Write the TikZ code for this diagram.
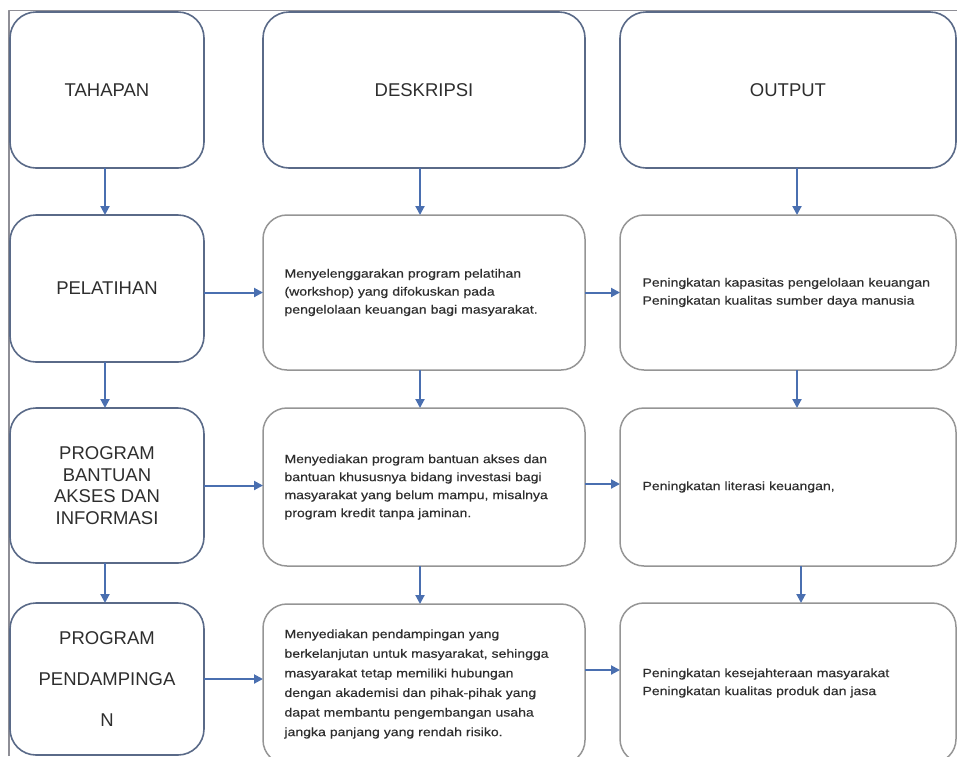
\documentclass[tikz,border=0pt]{standalone}
\usepackage{fontspec}
\setmainfont{Liberation Sans}
\newfontfamily\descfont[FakeStretch=1.17,FakeBold=0.4]{Liberation Sans}
\usepackage{tikz}
\usetikzlibrary{arrows.meta}
\usetikzlibrary{positioning}
\definecolor{headline}{HTML}{5A6A88}
\definecolor{boxline}{HTML}{959595}
\definecolor{arrowblue}{HTML}{4A6FB0}
\definecolor{textgray}{HTML}{2E2E2E}
\definecolor{frameline}{HTML}{8E8E96}

\begin{document}
\begin{tikzpicture}[x=1pt,y=1pt,node distance=47pt,line join=round,
			head node/.style={draw=headline,line width=1.6pt,rounded corners=26pt,
				inner sep=0pt,outer sep=0pt,align=center,text=textgray,
				font=\fontsize{18.5}{21.7}\selectfont},
			desc node/.style={draw=boxline,line width=1.5pt,rounded corners=24pt,
				inner sep=0pt,outer sep=0pt,align=left,text=textgray,
				font=\descfont\fontsize{12}{18}\selectfont},
			arr/.style={color=arrowblue,line width=2pt,
				-{Triangle[length=9pt,width=9pt]}}]
			
			\useasboundingbox (0,0) rectangle (957,-756);
			\clip (0,0) rectangle (957,-756);
			\draw[frameline,line width=1.4pt] (9,-756) -- (9,-10.5) -- (957,-10.5);
			
			% kolom tahapan
			\node[head node,minimum width=194pt,minimum height=156pt] (t0) at (107,-90) {TAHAPAN};
			\node[head node,minimum width=194pt,minimum height=147pt] (t1) [below=47pt of t0] {PELATIHAN};
			\node[head node,minimum width=194pt,minimum height=155pt] (t2) [below=46pt of t1]
				{PROGRAM\\BANTUAN\\AKSES DAN\\INFORMASI};
			\node[head node,minimum width=194pt,minimum height=152pt,
				font=\fontsize{18.5}{41}\selectfont] (t3) [below=40pt of t2]
				{PROGRAM\\PENDAMPINGA\\N};
			
			% kolom deskripsi
			\node[head node,minimum width=322pt,minimum height=156pt] (d0) at (424,-90) {DESKRIPSI};
			\node[desc node,minimum width=322pt,minimum height=155pt,text width=279pt] (d1) [below=47pt of d0]
				{Menyelenggarakan program pelatihan\\(workshop) yang difokuskan pada\\pengelolaan keuangan bagi masyarakat.};
			\node[desc node,minimum width=322pt,minimum height=158pt,text width=279pt] (d2) [below=38pt of d1]
				{Menyediakan program bantuan akses dan\\bantuan khususnya bidang investasi bagi\\masyarakat yang belum mampu, misalnya\\program kredit tanpa jaminan.};
			\node[desc node,minimum width=322pt,minimum height=160pt,text width=279pt,
				font=\descfont\fontsize{12}{19.6}\selectfont] (d3) [below=38pt of d2]
				{Menyediakan pendampingan yang\\berkelanjutan untuk masyarakat, sehingga\\masyarakat tetap memiliki hubungan\\dengan akademisi dan pihak-pihak yang\\dapat membantu pengembangan usaha\\jangka panjang yang rendah risiko.};
			
			% kolom output
			\node[head node,minimum width=336pt,minimum height=156pt] (o0) at (788,-90) {OUTPUT};
			\node[desc node,minimum width=336pt,minimum height=155pt,text width=291pt] (o1) [below=47pt of o0]
				{Peningkatan kapasitas pengelolaan keuangan\\Peningkatan kualitas sumber daya manusia};
			\node[desc node,minimum width=336pt,minimum height=158pt,text width=291pt] (o2) [below=38pt of o1]
				{Peningkatan literasi keuangan,};
			\node[desc node,minimum width=336pt,minimum height=160pt,text width=291pt] (o3) [below=37pt of o2]
				{Peningkatan kesejahteraan masyarakat\\Peningkatan kualitas produk dan jasa};
			
			\path[arr]
			([xshift=-2pt]t0.south) edge ([xshift=-2pt]t1.north)
			([xshift=-2pt]t1.south) edge ([xshift=-2pt]t2.north)
			([xshift=-2pt]t2.south) edge ([xshift=-2pt]t3.north)
			([xshift=-4pt]d0.south) edge ([xshift=-4pt]d1.north)
			([xshift=-4pt]d1.south) edge ([xshift=-4pt]d2.north)
			([xshift=-4pt]d2.south) edge ([xshift=-4pt]d3.north)
			([xshift=9pt]o0.south) edge ([xshift=9pt]o1.north)
			([xshift=9pt]o1.south) edge ([xshift=9pt]o2.north)
			([xshift=13pt]o2.south) edge ([xshift=13pt]o3.north)
			(t1.east |- d1.west) edge (d1.west)
			(t2.east) edge (t2.east -| d2.west)
			(t3.east) edge (t3.east -| d3.west)
			(d1.east) edge (o1.west)
			([yshift=3pt]d2.east) edge ([yshift=3pt]d2.east -| o2.west)
			([yshift=14pt]d3.east) edge ([yshift=14pt]d3.east -| o3.west);
		\end{tikzpicture}
\end{document}
